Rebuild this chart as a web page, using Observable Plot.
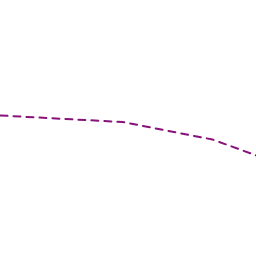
<!DOCTYPE html>
<html><head><meta charset="utf-8">
<script src="https://cdn.jsdelivr.net/npm/d3@7"></script>
<script src="https://cdn.jsdelivr.net/npm/@observablehq/plot@0.6"></script>
<style>body{margin:0;background:#fff}</style>
</head><body><div id="chart"></div>
<script>
const xs = [0, 122, 212, 256];
const ys = [141, 134.5, 117, 101];
const data = xs.map((x, i) => ({x, y: ys[i]}));
const chart = Plot.plot({
  width: 256, height: 256,
  margin: 0,
  x: {domain: [0, 256], axis: null},
  y: {domain: [0, 256], axis: null},
  marks: [
    Plot.line(data, {x: "x", y: "y", stroke: "#87127a", strokeWidth: 2, strokeDasharray: "7,6"})
  ]
});
document.getElementById("chart").appendChild(chart);
</script></body></html>
